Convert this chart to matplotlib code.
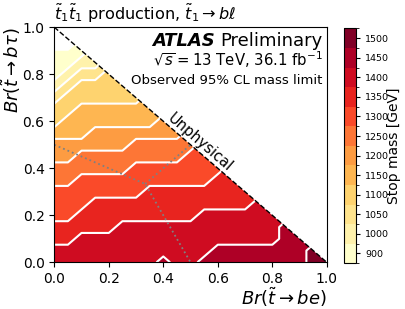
import matplotlib
matplotlib.use('Agg')
import matplotlib.pyplot as plt
import numpy as np
from matplotlib.colors import BoundaryNorm
from matplotlib.patches import Polygon

# =============================================================================
# data : observed stop mass limit [GeV] on the Br grid (step 0.05)
# one list per Br(t->b tau) row, entries go along Br(t->be) up to the edge
# =============================================================================
br_grid = np.linspace(0, 1, 21)

tau_000 = [1400, 1400, 1400, 1400, 1400, 1400, 1400, 1400, 1450, 1400, 1400,
           1450, 1450, 1450, 1450, 1450, 1450, 1450, 1450, 1500, 1500]
tau_005 = [1400, 1400, 1400, 1400, 1400, 1400, 1400, 1400, 1400, 1400, 1400,
           1400, 1450, 1450, 1450, 1450, 1450, 1450, 1450, 1500]
tau_010 = [1350, 1350, 1400, 1400, 1400, 1400, 1400, 1400, 1400, 1400, 1400,
           1400, 1400, 1400, 1400, 1400, 1400, 1450, 1450]
tau_015 = [1350, 1350, 1350, 1350, 1350, 1400, 1400, 1400, 1400, 1400, 1400,
           1400, 1400, 1400, 1400, 1400, 1400, 1450]
tau_020 = [1300, 1300, 1350, 1350, 1350, 1350, 1350, 1350, 1350, 1350, 1350,
           1400, 1400, 1400, 1400, 1400, 1400]
tau_025 = [1300, 1300, 1300, 1350, 1350, 1350, 1350, 1350, 1350, 1350, 1350,
           1350, 1350, 1350, 1350, 1400]
tau_030 = [1300, 1300, 1300, 1300, 1300, 1300, 1300, 1350, 1350, 1350, 1350,
           1350, 1350, 1350, 1350]
tau_035 = [1250, 1250, 1300, 1300, 1300, 1300, 1300, 1300, 1300, 1300, 1300,
           1300, 1350, 1350]
tau_040 = [1250, 1250, 1250, 1250, 1250, 1250, 1300, 1300, 1300, 1300, 1300,
           1300, 1300]
tau_045 = [1200, 1200, 1250, 1250, 1250, 1250, 1250, 1250, 1250, 1250, 1300,
           1300]
tau_050 = [1200, 1200, 1200, 1200, 1200, 1200, 1250, 1250, 1250, 1250, 1250]
tau_055 = [1150, 1150, 1150, 1200, 1200, 1200, 1200, 1200, 1200, 1200]
tau_060 = [1100, 1150, 1150, 1150, 1150, 1150, 1150, 1150, 1200]
tau_065 = [1100, 1100, 1150, 1150, 1150, 1150, 1150, 1150]
tau_070 = [1050, 1100, 1100, 1100, 1100, 1100, 1100]
tau_075 = [1000, 1050, 1100, 1100, 1100, 1100]
tau_080 = [900, 1000, 1050, 1050, 1100]
tau_085 = [900, 900, 1000, 1000]
tau_090 = [900, 900, 900]
tau_095 = [0, 0]
tau_100 = [0]

mass_rows = [tau_000, tau_005, tau_010, tau_015, tau_020, tau_025, tau_030,
             tau_035, tau_040, tau_045, tau_050, tau_055, tau_060, tau_065,
             tau_070, tau_075, tau_080, tau_085, tau_090, tau_095, tau_100]

# colour bands of the colorbar
band_mass = [900, 1000, 1050, 1100, 1150, 1200, 1250, 1300, 1350, 1400, 1450, 1500]
levels = [825, 950, 1025, 1075, 1125, 1175, 1225, 1275, 1325, 1375, 1425, 1475, 1525]

# =============================================================================
# grid (unphysical corner only padded so the contours reach the diagonal)
# =============================================================================
n = len(br_grid)
Z = np.full((n, n), np.nan)
for j, row in enumerate(mass_rows):
    Z[j, :len(row)] = row
for s in range(n, 2 * n - 1):
    for j in range(1, n):
        i = s - j
        if 1 <= i < n:
            Z[j, i] = Z[j - 1, i - 1]
X, Y = np.meshgrid(br_grid, br_grid)

# =============================================================================
# plot
# =============================================================================
fig = plt.figure(figsize=(4.05, 3.09), dpi=100)
ax = fig.add_axes([0.134, 0.151, 0.673, 0.761])
cax = fig.add_axes([0.849, 0.148, 0.030, 0.760])

cmap = plt.get_cmap('YlOrRd')
norm = BoundaryNorm(levels, cmap.N)
cf = ax.contourf(X, Y, Z, levels=levels, cmap=cmap, norm=norm)
cl = ax.contour(X, Y, Z, levels=levels[:-1], colors='white', linewidths=1.5)
tri = Polygon([[0, 0], [1, 0], [0, 1]], closed=True, transform=ax.transData)
cf.set_clip_path(tri)
cl.set_clip_path(tri)

# physical boundary and equal-Br lines
ax.plot([0, 1], [1, 0], color='k', ls='--', lw=1)
third = 1 / 3
ax.plot([0, third, 0.5], [0.5, third, 0], color='gray', ls=':', lw=1.3)
ax.plot([third, 0.5], [third, 0.5], color='gray', ls=':', lw=1.3)

ax.text(0.535, 0.51, 'Unphysical', rotation=-40.8, ha='center', va='center',
        fontsize=10.5, rotation_mode='anchor')

ax.set_xlim(0, 1)
ax.set_ylim(0, 1)
ax.set_xticks(np.arange(0, 1.01, 0.2))
ax.set_yticks(np.arange(0, 1.01, 0.2))
ax.tick_params(labelsize=10)
ax.set_xlabel(r'$Br(\tilde{t}\rightarrow be)$', fontsize=13, loc='right')
ax.set_ylabel(r'$Br(\tilde{t}\rightarrow b\tau)$', fontsize=13, loc='top')
ax.xaxis.set_label_coords(1.0, -0.1)
ax.yaxis.set_label_coords(-0.113, 1.0)
ax.set_title(r'$\tilde{t}_1\tilde{t}_1$ production, $\tilde{t}_1\rightarrow b\ell$',
             loc='left', fontsize=11.6, pad=5)

prelim = ax.text(0.985, 0.922, 'Preliminary', transform=ax.transAxes,
                 ha='right', va='baseline', fontsize=13)
ax.annotate('ATLAS', xy=(0, 0), xycoords=prelim, xytext=(-4, 0),
            textcoords='offset points', ha='right', va='bottom',
            fontsize=13, fontweight='bold', fontstyle='italic')
ax.text(0.985, 0.836, r'$\sqrt{s}=13$ TeV, 36.1 fb$^{-1}$', transform=ax.transAxes,
        ha='right', va='baseline', fontsize=10.7)
ax.text(0.985, 0.76, 'Observed 95% CL mass limit', transform=ax.transAxes,
        ha='right', va='baseline', fontsize=9.5)

cb = fig.colorbar(cf, cax=cax)
mids = [(levels[k] + levels[k + 1]) / 2 for k in range(len(band_mass))]
cb.set_ticks(mids, labels=[str(m) for m in band_mass])
cb.ax.tick_params(labelsize=6.8, length=3)
cb.set_label('Stop mass [GeV]', fontsize=10)
cb.ax.yaxis.set_label_coords(3.55, 0.5)

plt.savefig('out.png', dpi=100)
